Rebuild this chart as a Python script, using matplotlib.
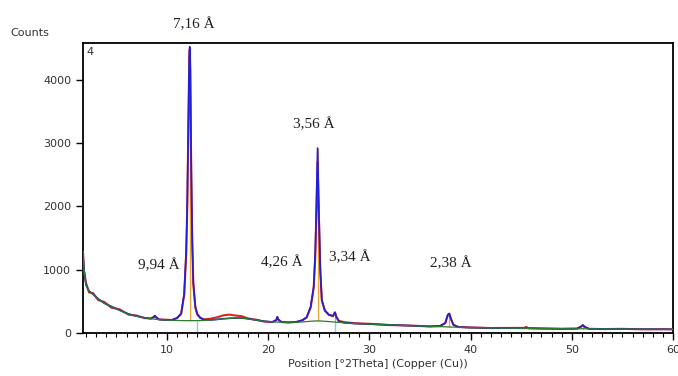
# XRD pattern (Cu K-alpha), observed / calculated / background

import matplotlib
matplotlib.use("Agg")
import matplotlib.pyplot as plt
from matplotlib.ticker import MultipleLocator

# Data
two_theta = [1.7, 1.8, 2.0, 2.3, 2.7, 3.2, 3.8, 4.5, 5.3, 6.2, 7.0, 7.8, 8.4, 8.7, 8.8, 8.9,
             9.2, 9.8, 10.5, 11.0, 11.4, 11.7, 11.9, 12.0, 12.1, 12.2, 12.25, 12.3, 12.4,
             12.5, 12.6, 12.8, 13.0, 13.3, 13.7, 14.3, 15.0, 15.6, 16.2, 16.8, 17.4, 18.0,
             18.8, 19.6, 20.4, 20.8, 20.9, 21.0, 21.3, 22.0, 22.8, 23.4, 23.8, 24.2, 24.5,
             24.65, 24.75, 24.88, 25.0, 25.15, 25.3, 25.6, 26.0, 26.4, 26.6, 26.75, 27.0,
             27.5, 28.5, 30.0, 32.0, 34.0, 36.0, 37.0, 37.5, 37.75, 37.9, 38.05, 38.3, 38.8,
             40.0, 42.0, 44.0, 45.3, 45.5, 45.7, 47.0, 49.0, 50.5, 50.9, 51.1, 51.3, 51.7,
             53.0, 55.0, 57.0, 59.0, 60.0]
background = [1250, 1000, 760, 660, 610, 540, 470, 420, 360, 300, 265, 240, 225, 220, 218, 216,
              212, 205, 200, 198, 196, 195, 195, 195, 195, 195, 195, 195, 195,
              195, 195, 195, 195, 196, 198, 205, 215, 225, 232, 236, 235, 225,
              205, 185, 175, 172, 172, 171, 170, 168, 170, 175, 180, 185, 188,
              190, 190, 190, 190, 190, 188, 185, 180, 175, 172, 170, 168,
              162, 150, 140, 128, 115, 105, 100, 98, 96, 95, 94, 93, 90,
              85, 80, 76, 74, 73, 72, 70, 68, 67, 66, 66, 66, 65,
              64, 62, 60, 58, 57]
calculated = [1250, 1000, 760, 660, 610, 540, 470, 420, 360, 300, 265, 240, 225, 250, 275, 255,
              214, 206, 205, 240, 310, 620, 1300, 2000, 3200, 4350, 4520, 4200, 2600,
              1450, 800, 420, 300, 240, 205, 205, 215, 225, 232, 236, 235, 225,
              205, 185, 175, 200, 255, 215, 170, 168, 175, 205, 250, 420, 730,
              1260, 1900, 2920, 2000, 1000, 520, 360, 290, 270, 330, 250, 180,
              162, 150, 140, 128, 115, 105, 112, 160, 290, 310, 230, 130, 92,
              85, 80, 76, 74, 75, 72, 70, 68, 70, 100, 125, 95, 66,
              64, 62, 60, 58, 57]
observed = [1280, 980, 790, 640, 630, 520, 490, 400, 375, 290, 275, 235, 230, 255, 270, 250,
            215, 210, 205, 235, 300, 600, 1250, 1950, 3100, 4300, 4480, 4150, 2500,
            1400, 780, 400, 290, 235, 215, 225, 250, 280, 290, 275, 265, 230,
            210, 180, 172, 205, 250, 210, 175, 165, 175, 200, 245, 400, 720,
            1200, 1800, 2700, 1900, 980, 510, 350, 285, 265, 320, 245, 190,
            172, 155, 145, 125, 118, 102, 110, 155, 280, 300, 225, 128, 95,
            88, 78, 80, 80, 95, 78, 72, 65, 68, 98, 122, 92, 66,
            62, 65, 58, 60, 58]

# peak positions (orange sticks) and extra phase markers (light blue)
stick_pos = [12.25, 24.88, 26.6, 37.9, 51.1]
stick_top = [4520, 2920, 330, 310, 125]
stick_base = [195, 190, 172, 95, 66]
marker_pos = [13.0, 26.6]
marker_top = [195, 172]

# d-spacing labels
d_labels = ["7,16 Å", "3,56 Å", "9,94 Å", "4,26 Å", "3,34 Å", "2,38 Å"]
d_x = [12.7, 24.55, 9.2, 21.3, 28.1, 38.0]
d_y = [4870, 3300, 1075, 1120, 1200, 1105]

fig = plt.figure(figsize=(6.78, 3.76), dpi=100)
ax = fig.add_axes([0.1224, 0.1144, 0.8702, 0.7712])

ax.vlines(stick_pos, stick_base, stick_top, color="#f0a030", lw=0.9, zorder=2)
ax.vlines(marker_pos, 0, marker_top, color="#8cc8f0", lw=1.0, zorder=2)
ax.plot(two_theta, observed, color="#d42a1a", lw=1.5, zorder=3)
ax.plot(two_theta, calculated, color="#2020d8", lw=1.2, zorder=3.5)
ax.plot(two_theta, background, color="#2e7a2e", lw=0.9, zorder=4)

for lab, xx, yy in zip(d_labels, d_x, d_y):
    ax.text(xx, yy, lab, ha="center", va="center", fontsize=11,
            family="Liberation Serif", color="#222222", clip_on=False)

ax.set_xlim(1.7, 60)
ax.set_ylim(0, 4580)
ax.xaxis.set_major_locator(MultipleLocator(10))
ax.xaxis.set_minor_locator(MultipleLocator(1))
ax.yaxis.set_major_locator(MultipleLocator(1000))
ax.tick_params(axis="both", which="major", direction="out", length=5, width=1,
               labelsize=8, labelcolor="#333333")
ax.tick_params(axis="x", which="minor", direction="out", length=3, width=0.8)
for s in ax.spines.values():
    s.set_linewidth(1.3)

ax.set_xlabel("Position [°2Theta] (Copper (Cu))", fontsize=8, color="#333333", labelpad=3)
fig.text(0.015, 0.912, "Counts", fontsize=8, color="#333333", va="center")
ax.text(0.006, 0.985, "4", transform=ax.transAxes, fontsize=8, va="top", ha="left",
        color="#333333")

fig.savefig("out.png", dpi=100)
